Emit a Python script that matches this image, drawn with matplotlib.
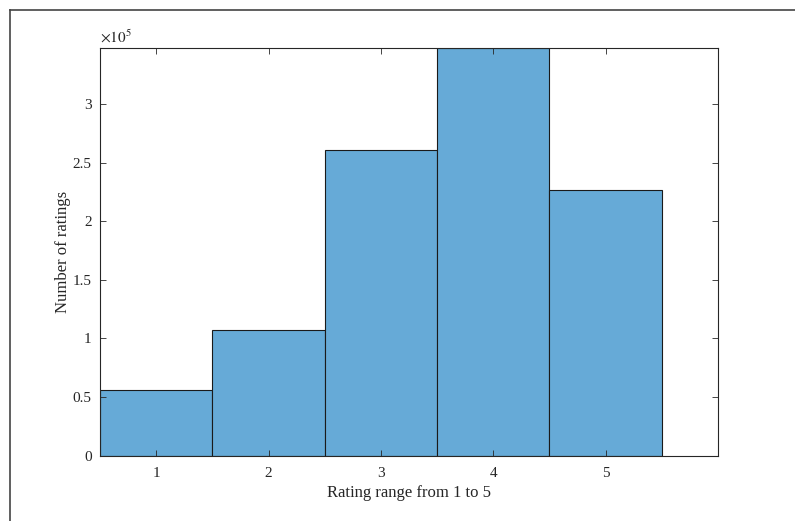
import numpy as np
import matplotlib
matplotlib.use('Agg')
import matplotlib.pyplot as plt
from matplotlib.lines import Line2D

# rating histogram (counts)
ratings = [1, 2, 3, 4, 5]
counts = [0.56e5, 1.07e5, 2.61e5, 3.48e5, 2.27e5]
yticks = [0, 0.5e5, 1e5, 1.5e5, 2e5, 2.5e5, 3e5]
ytick_labels = ['0', '0.5', '1', '1.5', '2', '2.5', '3']

plt.rcParams['font.family'] = ['Liberation Serif', 'DejaVu Serif']
plt.rcParams['mathtext.fontset'] = 'stix'

fig = plt.figure(figsize=(7.95, 5.21), dpi=100)
ax = fig.add_axes([100 / 795, 1 - 455.7 / 521, 618 / 795, 408 / 521])

ax.bar(ratings, counts, width=1.0, color='#66aad7', edgecolor='#1a1a1a',
       linewidth=0.8)
ax.set_xlim(0.5, 6.0)
ax.set_ylim(0, max(counts))
ax.set_xticks(ratings)
ax.set_yticks(yticks)
ax.set_yticklabels(ytick_labels)
ax.tick_params(direction='in', length=4, width=0.6, colors='#262626',
               labelsize=11, top=True, right=True)
ax.tick_params(axis='x', pad=8)
ax.tick_params(axis='y', pad=6)
for s in ax.spines.values():
  s.set_color('#262626')
  s.set_linewidth(0.8)

ax.text(0, 1.005, r'$\times10^{5}$', transform=ax.transAxes, fontsize=11,
        color='#262626', va='bottom', ha='left')
ax.set_xlabel('Rating range from 1 to 5', fontsize=12, color='#262626',
              labelpad=4)
ax.set_ylabel('Number of ratings', fontsize=12, color='#262626', labelpad=1)

# frame lines of the screenshot (top and left only)
fig.add_artist(Line2D([10 / 795, 1], [1 - 10 / 521, 1 - 10 / 521],
                      color='#444444', lw=1.2, transform=fig.transFigure))
fig.add_artist(Line2D([10 / 795, 10 / 795], [0, 1 - 10 / 521],
                      color='#444444', lw=1.2, transform=fig.transFigure))

fig.savefig('out.png', dpi=100)
